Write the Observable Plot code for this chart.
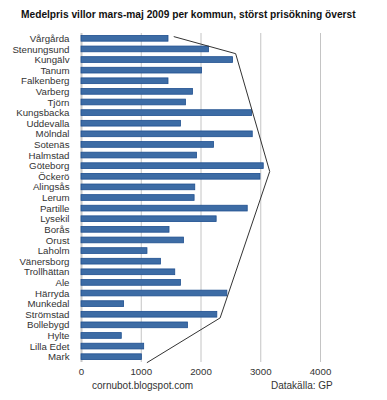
<!DOCTYPE html>
<html><head><meta charset="utf-8">
<script src="https://cdn.jsdelivr.net/npm/d3@7"></script>
<script src="https://cdn.jsdelivr.net/npm/@observablehq/plot@0.6"></script>
<style>
body{margin:0;background:#fff;font-family:"Liberation Sans",Arial,sans-serif;}
#wrap{position:relative;width:387px;height:400px;overflow:hidden;}
#title{position:absolute;top:9px;left:21px;font-weight:bold;font-size:10.2px;color:#111;white-space:nowrap;}
.foot{position:absolute;top:380px;font-size:10px;color:#333;white-space:nowrap;}
</style></head>
<body><div id="wrap">
<div id="title">Medelpris villor mars-maj 2009 per kommun, störst prisökning överst</div>
<div class="foot" style="left:92px">cornubot.blogspot.com</div>
<div class="foot" style="left:271px">Datakälla: GP</div>
</div>
<script>
const kommuner = ["Vårgårda","Stenungsund","Kungälv","Tanum","Falkenberg","Varberg","Tjörn","Kungsbacka","Uddevalla","Mölndal","Sotenäs","Halmstad","Göteborg","Öckerö","Alingsås","Lerum","Partille","Lysekil","Borås","Orust","Laholm","Vänersborg","Trollhättan","Ale","Härryda","Munkedal","Strömstad","Bollebygd","Hylte","Lilla Edet","Mark"];
const medelpris = [1456,2134,2537,2017,1456,1866,1748,2856,1664,2866,2218,1933,3050,2995,1904,1893,2782,2262,1473,1715,1104,1329,1569,1664,2441,713,2273,1782,674,1049,1010];
const xTicks = [0,1000,2000,3000,4000];
const gridX = [1000,2000,3000,4000];
// annotation outline (x in kr-units, y in row index)
const outlineX = [1550,2580,3150,2320,1100];
const outlineY = [-0.2,1.4,12.5,26.3,30.5];

const rows = kommuner.map((k,i)=>({k, i, v: medelpris[i]}));
const outline = outlineX.map((x,i)=>({x, y: outlineY[i]}));

const chart = Plot.plot({
  width: 387, height: 400,
  marginTop: 33, marginBottom: 38, marginLeft: 81, marginRight: 67,
  style: {fontFamily: '"Liberation Sans", Arial, sans-serif', fontSize: "9.7px", color: "#333", background: "transparent"},
  x: {domain: [0,4000], ticks: xTicks, tickFormat: d3.format("d"), tickSize: 0, tickPadding: 6, label: null},
  y: {domain: [30.5,-0.5], ticks: d3.range(kommuner.length), tickFormat: i => kommuner[i], tickSize: 0, tickPadding: 12, label: null},
  marks: [
    Plot.ruleX(gridX, {stroke: "#c4c4c4", strokeWidth: 1}),
    Plot.ruleX([0], {stroke: "#c8c8c8", strokeWidth: 2}),
    Plot.rectX(rows, {x1: 0, x2: "v", y1: d => d.i - 0.27, y2: d => d.i + 0.27, fill: "#3d6ca5", stroke: "#1f4f8f", strokeWidth: 0.8}),
    Plot.line(outline, {x: "x", y: "y", stroke: "#333", strokeWidth: 1})
  ]
});
chart.style.position = "absolute";
chart.style.left = "0"; chart.style.top = "0";
document.getElementById("wrap").prepend(chart);
</script>
</body></html>
